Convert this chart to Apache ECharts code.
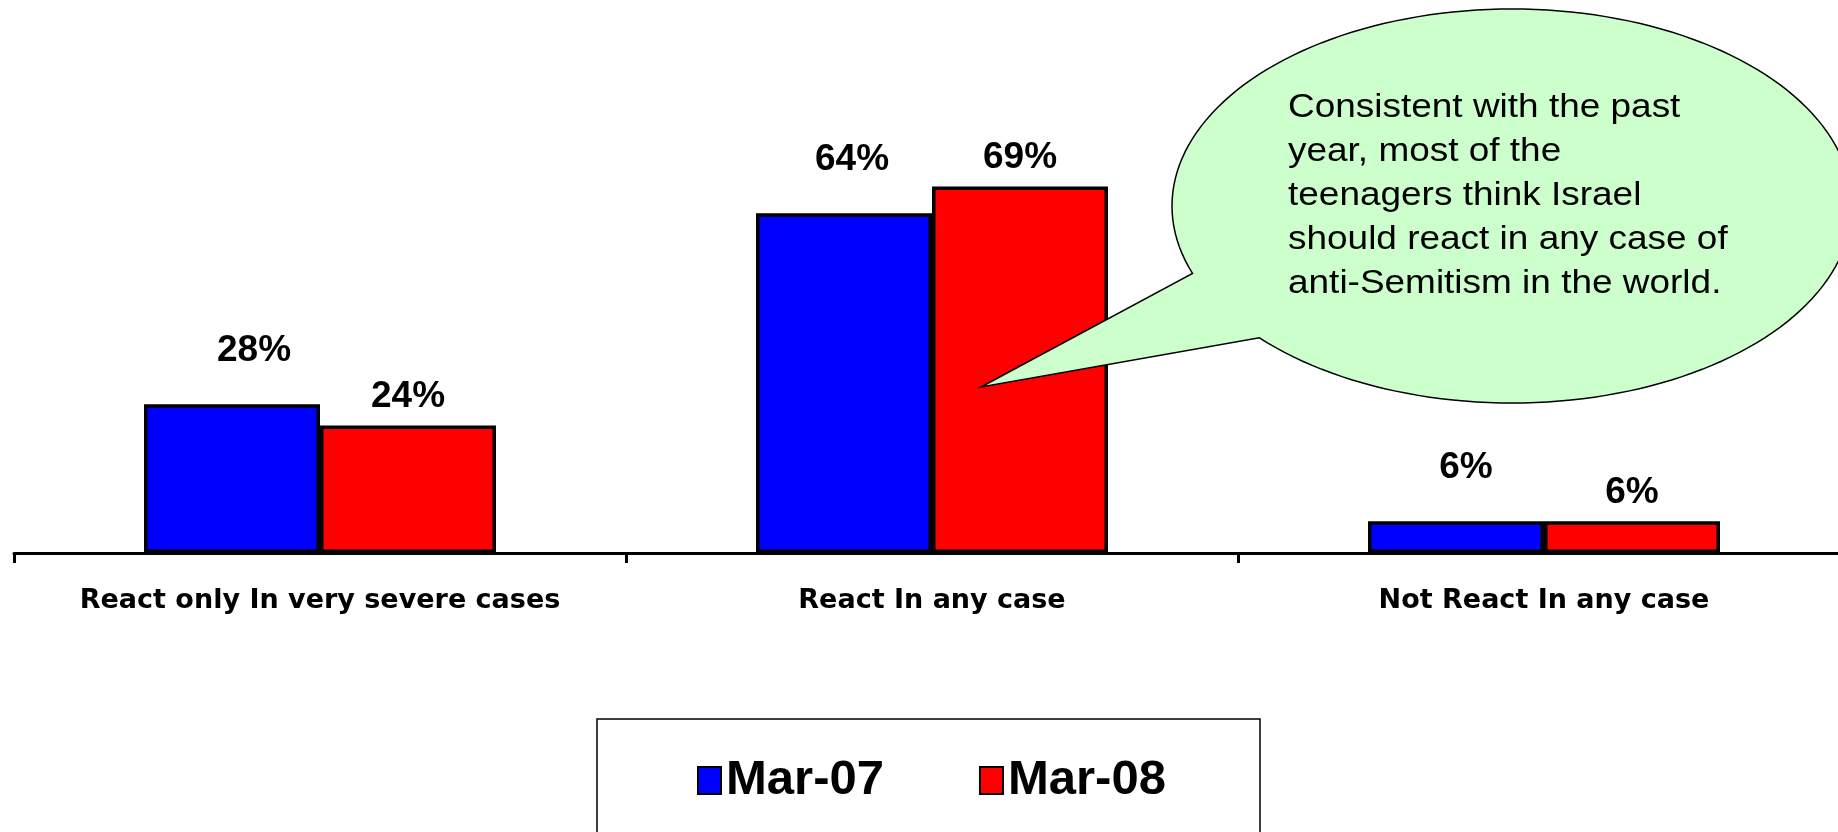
<!DOCTYPE html>
<html lang="en">

<head>
    <meta charset="UTF-8">
    <title>React to anti-Semitism</title>
    <script src="https://cdn.jsdelivr.net/npm/echarts@6/dist/echarts.min.js"></script>
    <style>
        * {
            margin: 0;
            padding: 0;
        }

        html,
        body {
            height: 100%;
            width: 100%;
            background: #fff;
        }

        #main {
            width: 1838px;
            height: 832px;
        }
    </style>
</head>

<body>
    <div id="main"></div>
    <script>
        // data
        var categories = ['React only In very severe cases', 'React In any case', 'Not React In any case'];
        var seriesNames = ['Mar-07', 'Mar-08'];
        var mar07 = [28, 64, 6];
        var mar08 = [24, 69, 6];
        var calloutLines = [
            'Consistent with the past',
            'year, most of the',
            'teenagers think Israel',
            'should react in any case of',
            'anti-Semitism in the world.'
        ];

        // the blue value labels were nudged right by hand in the original
        var blueLabelShift = [22, 8, 10];

        // speech bubble outline: ellipse + wedge pointing at the red bar
        var bubble = function () {
            var cx = 1512, cy = 206, rx = 340, ry = 197;
            var t1 = 160, t2 = 138 + 360;
            var pts = [];
            for (var t = t1; t <= t2; t += 2) {
                var a = t * Math.PI / 180;
                pts.push([cx + rx * Math.cos(a), cy + ry * Math.sin(a)]);
            }
            pts.push([981, 387]);
            return pts;
        };

        var chartDom = document.querySelector('#main');
        var myChart = echarts.init(chartDom);
        var labelFont = {
            fontFamily: 'Liberation Sans',
            fontWeight: 'bold',
            fontSize: 37,
            color: '#000',
            formatter: '{c}%'
        };
        var option = {
            animation: false,
            backgroundColor: '#fff',
            grid: {
                left: 14,
                width: 1836,
                top: 22,
                bottom: 279,
                outerBoundsMode: 'none'
            },
            legend: {
                data: seriesNames,
                left: 697,
                top: 756,
                padding: 0,
                icon: 'rect',
                itemWidth: 23,
                itemHeight: 27,
                itemGap: 95,
                textStyle: {
                    fontFamily: 'Liberation Sans',
                    fontWeight: 'bold',
                    fontSize: 49,
                    color: '#000'
                }
            },
            xAxis: {
                type: 'category',
                data: categories,
                axisLine: { lineStyle: { color: '#000', width: 3 } },
                axisTick: { show: true, length: 10, lineStyle: { color: '#000', width: 3 } },
                axisLabel: {
                    interval: 0,
                    margin: 34,
                    fontFamily: 'DejaVu Sans',
                    fontWeight: 'bold',
                    fontSize: 27,
                    color: '#000'
                }
            },
            yAxis: {
                type: 'value',
                min: 0,
                max: 100,
                show: false
            },
            series: [
                {
                    name: seriesNames[0],
                    type: 'bar',
                    data: mar07.map(function (v, i) {
                        return { value: v, label: { offset: [blueLabelShift[i], 0] } };
                    }),
                    barWidth: 176,
                    barGap: '0%',
                    itemStyle: { color: '#0000ff', borderColor: '#000', borderWidth: 3.5 },
                    label: Object.assign({ show: true, position: 'top', distance: 35 }, labelFont)
                },
                {
                    name: seriesNames[1],
                    type: 'bar',
                    data: mar08,
                    barWidth: 176,
                    barGap: '0%',
                    itemStyle: { color: '#ff0000', borderColor: '#000', borderWidth: 3.5 },
                    label: Object.assign({ show: true, position: 'top', distance: 10 }, labelFont)
                }
            ],
            graphic: [
                {
                    type: 'rect',
                    z: 1,
                    shape: { x: 597, y: 719, width: 663, height: 200 },
                    style: { fill: '#fff', stroke: '#000', lineWidth: 1.5 }
                },
                {
                    type: 'polygon',
                    z: 100,
                    shape: { points: bubble() },
                    style: { fill: '#ccffcc', stroke: '#000', lineWidth: 1.5 }
                },
                {
                    type: 'text',
                    z: 101,
                    x: 1288,
                    y: 86,
                    scaleX: 1.12,
                    style: {
                        text: calloutLines.join('\n'),
                        font: '33px "Liberation Sans"',
                        lineHeight: 44,
                        fill: '#000',
                        verticalAlign: 'top'
                    }
                }
            ]
        };
        option && myChart.setOption(option);
    </script>
</body>

</html>
